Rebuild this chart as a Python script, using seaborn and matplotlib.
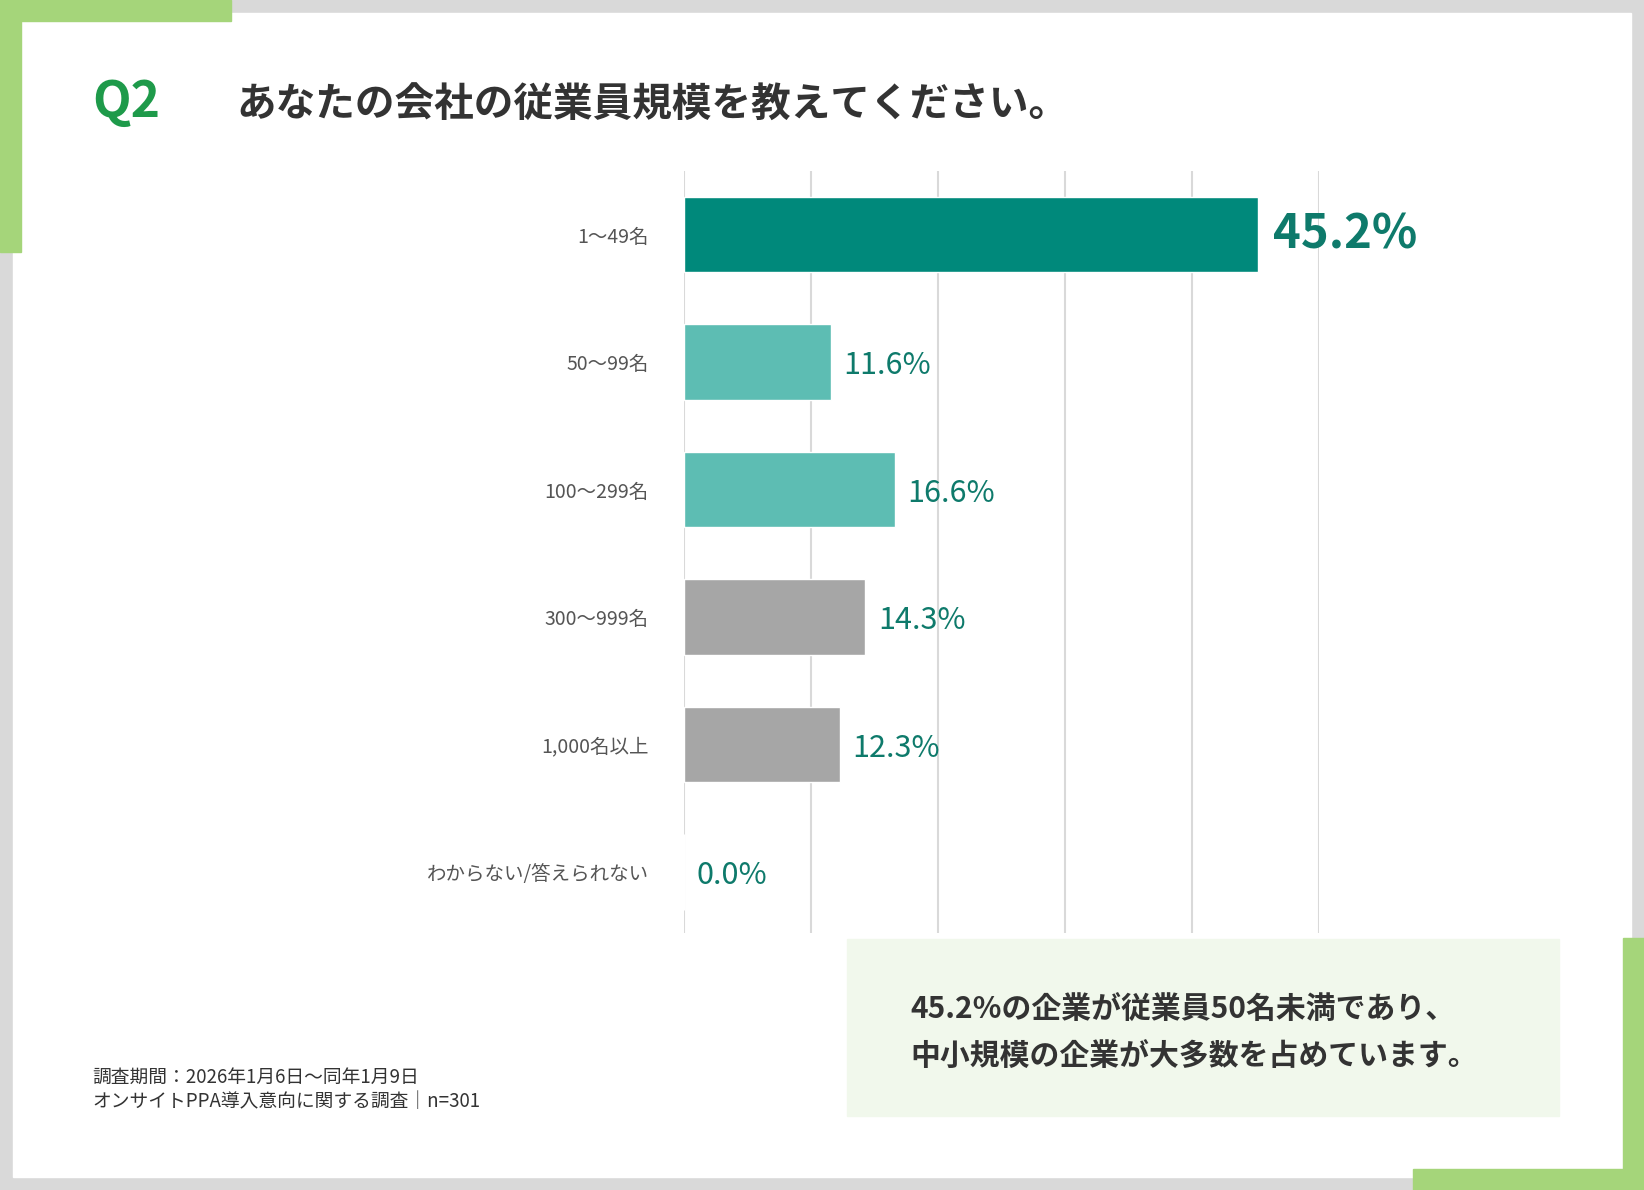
import matplotlib.pyplot as plt
import matplotlib.patches as patches
import seaborn as sns
import pandas as pd

categories = ['1〜49名', '50〜99名', '100〜299名', '300〜999名', '1,000名以上', 'わからない/答えられない']
values = [45.2, 11.6, 16.6, 14.3, 12.3, 0.0]
colors = ['#00897B', '#5DBDB3', '#5DBDB3', '#A6A6A6', '#A6A6A6', '#A6A6A6']

df = pd.DataFrame({'cat': categories, 'val': values})

sns.set_style('white')
plt.rcParams['font.family'] = ['Noto Sans CJK JP', 'DejaVu Sans']

W, H = 1568, 1135
fig = plt.figure(figsize=(16.44, 11.90), dpi=100)
fig.patch.set_facecolor('#D9D9D9')

def rect(x0, y0, x1, y1, color, z=0):
    fig.patches.append(patches.Rectangle((x0 / W, 1 - y1 / H), (x1 - x0) / W, (y1 - y0) / H,
                                         transform=fig.transFigure, color=color, zorder=z))

rect(12, 12, 1556, 1123, 'white')
green = '#A5D57A'
rect(0, 0, 220, 20, green, 1)
rect(0, 0, 20, 240, green, 1)
rect(1548, 895, 1568, 1135, green, 1)
rect(1348, 1115, 1568, 1135, green, 1)
rect(808, 896, 1487, 1064, '#F1F8EC', 1)

ax = fig.add_axes([652 / W, 1 - 890 / H, (1258 - 652) / W, (890 - 163) / H])
ax.set_zorder(5)
sns.barplot(data=df, x='val', y='cat', hue='cat', palette=colors, legend=False,
            width=0.59, ax=ax, saturation=1, zorder=3)
ax.set_xlim(0, 50)
ax.set_ylim(5.48, -0.5)
ax.set_xticks([0, 10, 20, 30, 40, 50])
ax.set_xticklabels([])
ax.grid(axis='x', color='#D9D9D9', linewidth=1.5, zorder=0)
ax.set_axisbelow(True)
ax.tick_params(axis='y', length=0, pad=25, labelsize=14, labelcolor='#555555')
ax.tick_params(axis='x', length=0)
ax.set_xlabel('')
ax.set_ylabel('')
for s in ax.spines.values():
    s.set_visible(False)
ax.set_facecolor('none')

for i, v in enumerate(values):
    if i == 0:
        ax.text(v + 1.2, i, f'{v:.1f}%', va='center', ha='left', fontsize=34,
                fontweight='bold', color='#0E7A6B')
    else:
        ax.text(v + 1.0, i + 0.03, f'{v:.1f}%', va='center', ha='left', fontsize=22,
                color='#0E7A6B')

fig.text(88 / W, 1 - 98 / H, 'Q2', fontsize=36, fontweight='bold', color='#1E9A4A', va='center')
fig.text(225 / W, 1 - 100 / H, 'あなたの会社の従業員規模を教えてください。', fontsize=28.5,
         fontweight='bold', color='#333333', va='center')
fig.text(868 / W, 1 - 963 / H, '45.2%の企業が従業員50名未満であり、', fontsize=21.5,
         fontweight='bold', color='#333333', va='center')
fig.text(868 / W, 1 - 1008 / H, '中小規模の企業が大多数を占めています。', fontsize=21.5,
         fontweight='bold', color='#333333', va='center')
fig.text(88 / W, 1 - 1028 / H, '調査期間：2026年1月6日〜同年1月9日', fontsize=13.5,
         color='#333333', va='center')
fig.text(88 / W, 1 - 1051 / H, 'オンサイトPPA導入意向に関する調査│n=301', fontsize=13.5,
         color='#333333', va='center')

fig.savefig('out.png', dpi=100, facecolor=fig.get_facecolor())
